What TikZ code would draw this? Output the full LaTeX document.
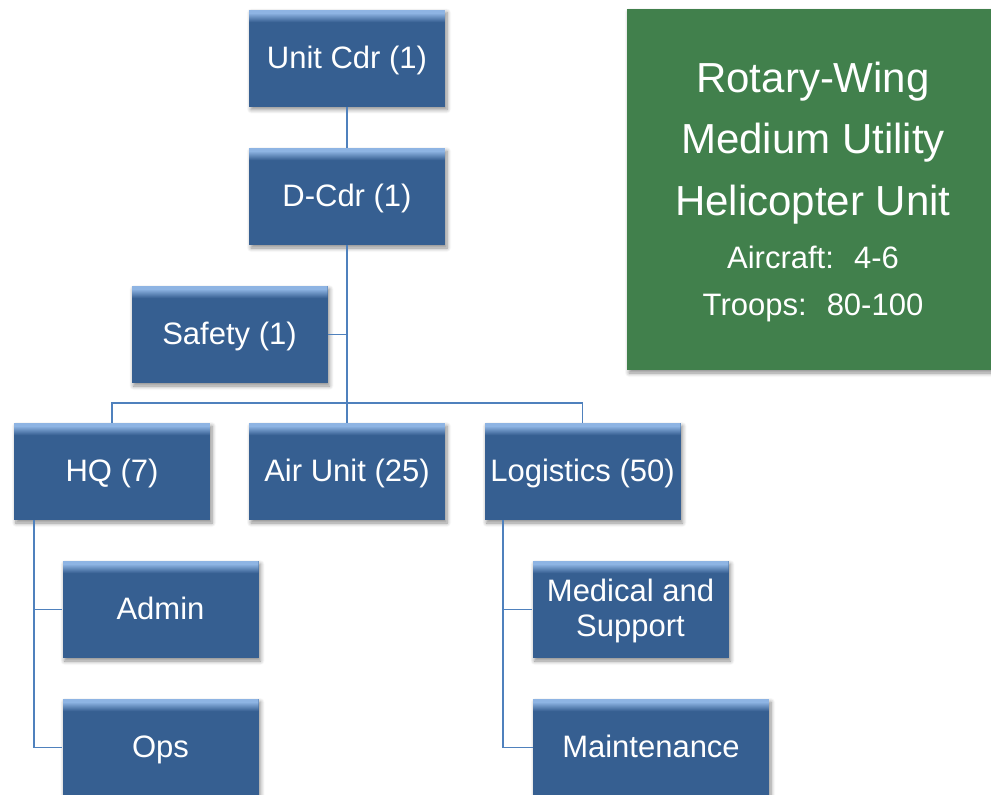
\documentclass[tikz,border=0pt]{standalone}
\usepackage{fontspec}
\setmainfont{Liberation Sans}
\usetikzlibrary{shadows.blur}
\definecolor{boxblue}{RGB}{54,95,145}
\definecolor{boxtop}{RGB}{142,180,227}
\definecolor{linkblue}{RGB}{79,129,189}
\definecolor{rwgreen}{RGB}{65,128,76}
\begin{document}
\begin{tikzpicture}[x=1pt,y=-1pt,
  softshadow/.style={blur shadow={shadow xshift=2pt, shadow yshift=-3pt, shadow blur steps=6, shadow opacity=45, shadow blur radius=4pt}},
  orgbox/.style={rectangle, fill=boxblue, text=white, minimum width=196pt, minimum height=97pt,
    inner sep=2pt, align=center, font=\fontsize{31}{35}\selectfont, softshadow,
    text height=24pt, text depth=4pt,
    path picture={
      \foreach \i [evaluate=\i as \p using {max(0,min(100,(\i-3)*11))}] in {0,...,12}
        \fill[boxblue!\p!boxtop]
          ([yshift=-\i pt]path picture bounding box.north west) rectangle
          ([yshift=-\i pt-1.3pt]path picture bounding box.north east);}},
  link/.style={draw=linkblue, line width=1.8pt},
  bigtxt/.style={anchor=base, text=white, inner sep=0pt, font=\fontsize{42}{50}\selectfont},
  smalltxt/.style={anchor=base, text=white, inner sep=0pt, font=\fontsize{31}{36}\selectfont}]
\useasboundingbox (0,0) rectangle (991,795);
% green info box
\node[fill=rwgreen, minimum width=372pt, minimum height=361pt, inner sep=0pt, softshadow] (rw) at (813,189.5) {};
\node[bigtxt] (rw1) at (813,92) {Rotary-Wing};
\node[bigtxt] (rw2) at (813,153) {Medium Utility};
\node[bigtxt] (rw3) at (813,215) {Helicopter Unit};
\node[smalltxt] (rw4) at (813,268) {Aircraft:~ 4-6};
\node[smalltxt] (rw5) at (813,315) {Troops:~ 80-100};
% org boxes
\node[orgbox] (uc) at (347,58) {Unit Cdr (1)};
\node[orgbox] (dc) at (347,196.5) {D-Cdr (1)};
\node[orgbox] (safety) at (229.5,334.5) {Safety (1)};
\node[orgbox] (hq) at (112,471.5) {HQ (7)};
\node[orgbox] (air) at (347,471.5) {Air Unit (25)};
\node[orgbox] (log) at (582.5,471.5) {Logistics (50)};
\node[orgbox] (admin) at (160.5,609.5) {Admin};
\node[orgbox] (ops) at (160.5,747.5) {Ops};
\node[orgbox, text height=, text depth=2.5pt] (med) at (630.5,609.5) {Medical and\\Support};
\node[orgbox, minimum width=236pt] (maint) at (651,747.5) {Maintenance};
% connectors
\coordinate (bar) at (347,403);
\coordinate (hqs) at ([xshift=20pt]hq.south west);
\coordinate (logs) at ([xshift=19pt]log.south west);
\draw[link] (uc.south) -- (dc.north);
\draw[link] (dc.south) -- (bar);
\draw[link] (safety.east) -- (safety.east -| dc.south);
\draw[link] (hq.north) |- (bar) -| (log.north);
\draw[link] (bar) -- (air.north);
\draw[link] (hqs) |- (admin.west);
\draw[link] (hqs) |- (ops.west);
\draw[link] (logs) |- (med.west);
\draw[link] (logs) |- (maint.west);
\end{tikzpicture}
\end{document}
